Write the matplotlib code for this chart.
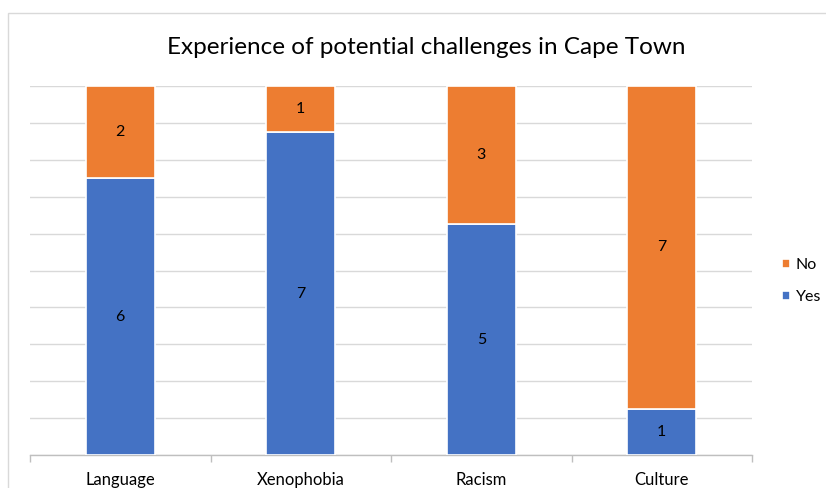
import matplotlib as mpl, numpy as np
import matplotlib.pyplot as plt
from matplotlib.patches import Rectangle

categories = ['Language', 'Xenophobia', 'Racism', 'Culture']
yes = [6, 7, 5, 1]
no = [2, 1, 3, 7]

plt.rcParams['font.family'] = ['Lato', 'DejaVu Sans']

blue = '#4472C4'
orange = '#ED7D31'

fig = plt.figure(figsize=(8.26, 4.88), dpi=100)
W, H = 826, 488
# chart area border (cropped on the right and bottom)
fig.add_artist(Rectangle((8 / W, -0.1), 1.2, 1 - 13 / H + 0.1, transform=fig.transFigure,
                         fill=False, edgecolor='#d9d9d9', linewidth=1.0))

ax = fig.add_axes([30 / W, 1 - 455 / H, (752 - 30) / W, (455 - 86) / H])

yes_a = np.array(yes, dtype=float)
no_a = np.array(no, dtype=float)
tot = yes_a + no_a
yes_p = yes_a / tot * 100
no_p = no_a / tot * 100
x = np.arange(len(categories))

ax.bar(x, yes_p, width=0.38, color=blue, edgecolor='white', linewidth=1.2, label='Yes', zorder=3)
ax.bar(x, no_p, width=0.38, bottom=yes_p, color=orange, edgecolor='white', linewidth=1.2, label='No', zorder=3)

for i in range(len(categories)):
    ax.text(x[i], yes_p[i] / 2, str(yes[i]), ha='center', va='center', fontsize=11.5, color='#000000', zorder=4)
    ax.text(x[i], yes_p[i] + no_p[i] / 2, str(no[i]), ha='center', va='center', fontsize=11.5, color='#000000', zorder=4)

ax.set_xlim(-0.5, len(categories) - 0.5)
ax.set_ylim(0, 100)
ax.set_yticks(np.arange(0, 101, 10))
ax.yaxis.grid(True, color='#d9d9d9', linewidth=1.0, zorder=0)
ax.tick_params(axis='y', left=False, labelleft=False)
ax.set_xticks(x)
ax.set_xticklabels(categories, fontsize=12)
ax.tick_params(axis='x', length=0, pad=12)
ax.set_xticks(np.arange(-0.5, len(categories)), minor=True)
ax.tick_params(axis='x', which='minor', length=5, color='#bfbfbf', width=1.0)
for s in ['top', 'right', 'left']:
    ax.spines[s].set_visible(False)
ax.spines['bottom'].set_color('#bfbfbf')
ax.spines['bottom'].set_linewidth(1.0)

fig.text(426 / W, 1 - 47 / H, 'Experience of potential challenges in Cape Town',
         ha='center', va='center', fontsize=17.5, color='#000000')

handles, labels = ax.get_legend_handles_labels()
ax.legend(handles[::-1], labels[::-1], loc='center left', bbox_to_anchor=(782 / W, 1 - 281 / H),
          bbox_transform=fig.transFigure, frameon=False, fontsize=11.5, handlelength=0.5,
          handleheight=0.5, handletextpad=0.35, labelspacing=1.15, borderpad=0.0, borderaxespad=0.0)

fig.savefig('out.png', dpi=100)
